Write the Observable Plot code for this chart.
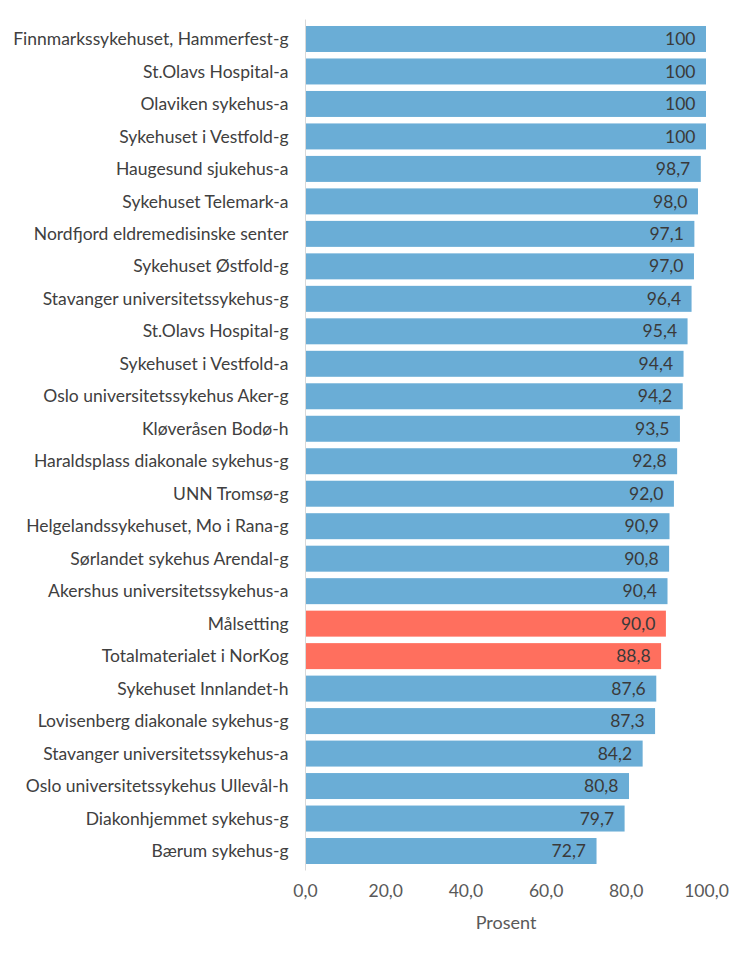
<!DOCTYPE html>
<html>
<head>
<meta charset="utf-8">
<script src="https://cdn.jsdelivr.net/npm/d3@7"></script>
<script src="https://cdn.jsdelivr.net/npm/@observablehq/plot@0.6"></script>
<style>
  html, body { margin: 0; padding: 0; background: #ffffff; }
  #chart svg { display: block; }
</style>
</head>
<body>
<div id="chart"></div>
<script>
const categories = [
  "Finnmarkssykehuset, Hammerfest-g",
  "St.Olavs Hospital-a",
  "Olaviken sykehus-a",
  "Sykehuset i Vestfold-g",
  "Haugesund sjukehus-a",
  "Sykehuset Telemark-a",
  "Nordfjord eldremedisinske senter",
  "Sykehuset Østfold-g",
  "Stavanger universitetssykehus-g",
  "St.Olavs Hospital-g",
  "Sykehuset i Vestfold-a",
  "Oslo universitetssykehus Aker-g",
  "Kløveråsen Bodø-h",
  "Haraldsplass diakonale sykehus-g",
  "UNN Tromsø-g",
  "Helgelandssykehuset, Mo i Rana-g",
  "Sørlandet sykehus Arendal-g",
  "Akershus universitetssykehus-a",
  "Målsetting",
  "Totalmaterialet i NorKog",
  "Sykehuset Innlandet-h",
  "Lovisenberg diakonale sykehus-g",
  "Stavanger universitetssykehus-a",
  "Oslo universitetssykehus Ullevål-h",
  "Diakonhjemmet sykehus-g",
  "Bærum sykehus-g"
];
const values = [100, 100, 100, 100, 98.7, 98.0, 97.1, 97.0, 96.4, 95.4, 94.4, 94.2, 93.5, 92.8, 92.0, 90.9, 90.8, 90.4, 90.0, 88.8, 87.6, 87.3, 84.2, 80.8, 79.7, 72.7];
const highlighted = ["Målsetting", "Totalmaterialet i NorKog"];
const xTicks = [0, 20, 40, 60, 80, 100];
const xLabel = "Prosent";

const data = categories.map((c, i) => ({name: c, value: values[i], hl: highlighted.includes(c)}));
const fmtVal = v => v === 100 ? "100" : v.toFixed(1).replace(".", ",");
const fmtTick = v => v.toFixed(1).replace(".", ",");

const chart = Plot.plot({
  width: 750,
  height: 960,
  marginLeft: 305,
  marginRight: 44,
  marginTop: 19.5,
  marginBottom: 89.5,
  style: {fontFamily: "Lato, 'Open Sans', sans-serif", fontSize: "17.5px", color: "#404040", background: "#ffffff"},
  x: {domain: [0, 100], ticks: xTicks, tickFormat: fmtTick, label: null},
  y: {domain: categories, padding: 0.2, round: false, label: null},
  marks: [
    Plot.barX(data, {x: "value", y: "name", fill: d => d.hl ? "#ff6f5e" : "#6aadd6"}),
    Plot.ruleX([0], {stroke: "#d9d9d9", strokeWidth: 1}),
    Plot.text(data, {x: "value", y: "name", text: d => fmtVal(d.value), textAnchor: "end", dx: -11, fill: "#3a3a3a", fontSize: 17.5}),
    Plot.axisY({tickSize: 0, tickPadding: 17, fontSize: 17.5, color: "#404040"}),
    Plot.axisX({ticks: xTicks, tickFormat: fmtTick, tickSize: 0, tickPadding: 14, fontSize: 17.5, color: "#595959", label: null}),
    Plot.text([xLabel], {frameAnchor: "bottom", dy: 58, fontSize: 18, fill: "#595959"})
  ]
});
document.getElementById("chart").appendChild(chart);
</script>
</body>
</html>
